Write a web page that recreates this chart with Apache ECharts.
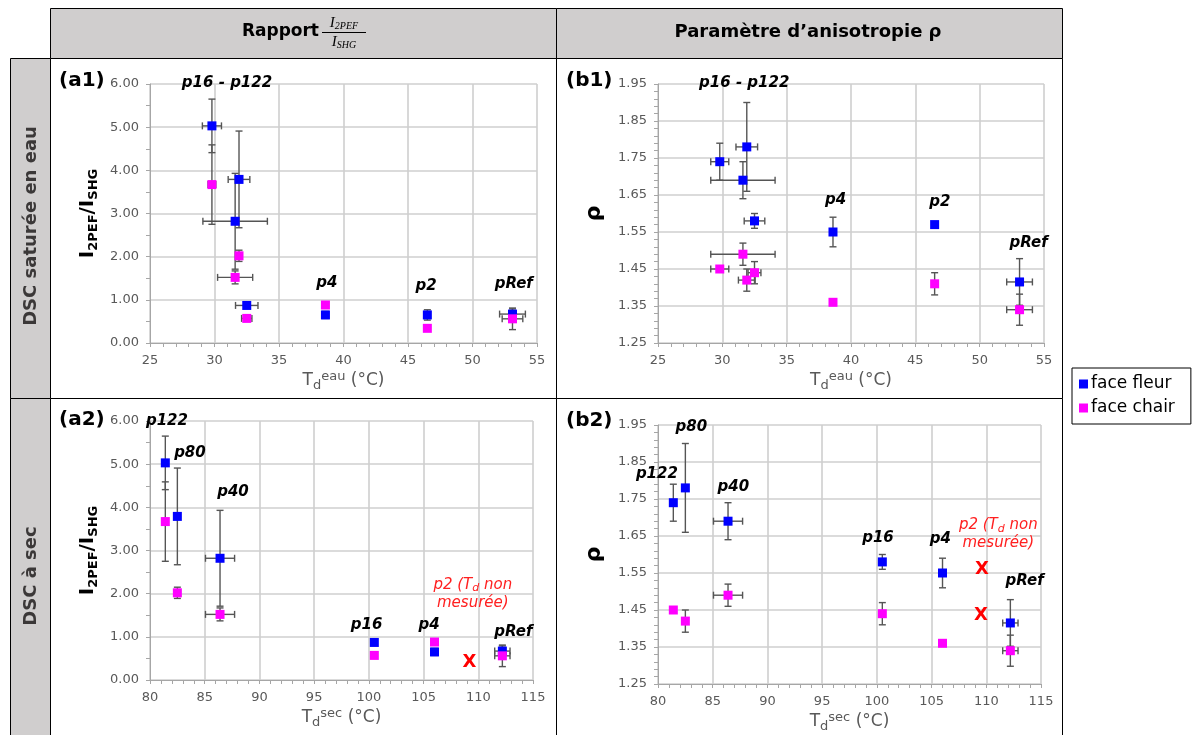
<!DOCTYPE html>
<html><head><meta charset="utf-8">
<script src="https://cdn.jsdelivr.net/npm/echarts@6/dist/echarts.min.js"></script>
<style>html,body{margin:0;padding:0;background:#fff}#c{width:1197px;height:735px}</style>
</head><body><div id="c"></div>
<script>
// ---------- DATA ----------
const samples = ['p122', 'p80', 'p40', 'p16', 'p4', 'p2', 'pRef'];
const tdEau = [29.8, 31.9, 31.6, 32.5, 38.6, 46.5, 53.1];
const tdSec = [81.4, 82.5, 86.4, 100.5, 106.0, null, 112.2];

const ratioFleur    = [5.03, 3.79, 2.82, 0.87, 0.65, 0.65, 0.67];
const ratioFleurErr = [0.62, 1.12, 1.11, 0.03, 0.08, 0.12, 0.12];
const ratioChair    = [3.67, 2.02, 1.52, 0.57, 0.88, 0.34, 0.56];
const ratioChairErr = [0.92, 0.13, 0.15, 0.03, 0.04, 0.03, 0.25];

const rhoFleur    = [1.74, 1.78, 1.69, 1.58, 1.55, 1.57, 1.415];
const rhoFleurErr = [0.05, 0.12, 0.05, 0.02, 0.04, 0.0, 0.063];
const rhoChair    = [1.45, 1.42, 1.49, 1.44, 1.36, 1.41, 1.34];
const rhoChairErr = [0.0, 0.03, 0.03, 0.03, 0.0, 0.03, 0.042];

const tdEauErrRatioFleur = [0.74, 0.84, 2.5, 0.87, 0.1, 0, 1.0];
const tdEauErrRatioChair = [0.3, 0.2, 1.36, 0.4, 0.1, 0, 0.8];
const tdEauErrRhoFleur   = [0.7, 0.84, 2.5, 0.8, 0.1, 0, 1.0];
const tdEauErrRhoChair   = [0.7, 0.65, 2.5, 0.5, 0.1, 0, 1.0];
const tdSecErrFleur      = [0, 0, 1.33, 0, 0, 0, 0.7];
const tdSecErrChair      = [0, 0, 1.33, 0, 0, 0, 0.7];

// p2 : T_d non mesurée (red crosses)
const p2CrossRatio = [[109.2, 0.41]];
const p2CrossRho = [[109.6, 1.56], [109.5, 1.435]];

// annotation labels [text, x, y]
const annA1 = [['p16 - p122', 30.97, 6.02], ['p4', 38.7, 1.38], ['p2', 46.4, 1.31], ['pRef', 53.2, 1.36]];
const annB1 = [['p16 - p122', 31.7, 1.953], ['p4', 38.8, 1.637], ['p2', 46.9, 1.632], ['pRef', 53.8, 1.521]];
const annA2 = [['p122', 81.55, 5.99], ['p80', 83.65, 5.25], ['p40', 87.58, 4.35], ['p16', 99.8, 1.27], ['p4', 105.5, 1.27], ['pRef', 113.2, 1.11]];
const annB2 = [['p122', 79.9, 1.817], ['p80', 83.04, 1.944], ['p40', 86.88, 1.782], ['p16', 100.1, 1.644], ['p4', 105.8, 1.641], ['pRef', 113.5, 1.528]];
const annP2A2 = [109.5, 2.0];
const annP2B2 = [111.1, 1.655];

// ---------- BUILD ----------
const FF = '"DejaVu Sans", sans-serif';
const BLUE = '#0000ff', MAG = '#ff00ff', GRAY = '#595959';

function pts(xs, ys, xe, ye) {
  const out = [];
  for (let i = 0; i < xs.length; i++) {
    if (xs[i] == null || ys[i] == null) continue;
    out.push([xs[i], ys[i], xe[i] || 0, ye[i] || 0]);
  }
  return out;
}

function errRender(params, api) {
  const x = api.value(0), y = api.value(1), ex = api.value(2), ey = api.value(3);
  const c = api.coord([x, y]);
  const style = { stroke: '#555555', lineWidth: 1.4 };
  const cap = 3.5;
  const ch = [];
  if (ey > 0) {
    const t = api.coord([x, y + ey]), b = api.coord([x, y - ey]);
    ch.push({ type: 'line', shape: { x1: c[0], y1: t[1], x2: c[0], y2: b[1] }, style });
    ch.push({ type: 'line', shape: { x1: c[0] - cap, y1: t[1], x2: c[0] + cap, y2: t[1] }, style });
    ch.push({ type: 'line', shape: { x1: c[0] - cap, y1: b[1], x2: c[0] + cap, y2: b[1] }, style });
  }
  if (ex > 0) {
    const l = api.coord([x - ex, y]), r = api.coord([x + ex, y]);
    ch.push({ type: 'line', shape: { x1: l[0], y1: c[1], x2: r[0], y2: c[1] }, style });
    ch.push({ type: 'line', shape: { x1: l[0], y1: c[1] - cap, x2: l[0], y2: c[1] + cap }, style });
    ch.push({ type: 'line', shape: { x1: r[0], y1: c[1] - cap, x2: r[0], y2: c[1] + cap }, style });
  }
  return { type: 'group', children: ch };
}

const grids = [
  { left: 150, top: 84, width: 387, height: 259 },
  { left: 658, top: 84, width: 386, height: 259 },
  { left: 150, top: 421, width: 383, height: 259 },
  { left: 658, top: 425, width: 383, height: 259 }
];

const axisRichX = {
  n: { fontSize: 17, color: GRAY, fontFamily: FF, lineHeight: 22 },
  sub: { fontSize: 13, color: GRAY, fontFamily: FF, lineHeight: 6, verticalAlign: 'bottom' },
  sup: { fontSize: 13, color: GRAY, fontFamily: FF, lineHeight: 10, verticalAlign: 'top' }
};
const axisRichY = {
  b: { fontSize: 20, color: '#000', fontWeight: 'bold', fontFamily: FF, lineHeight: 24 },
  s: { fontSize: 13, color: '#000', fontWeight: 'bold', fontFamily: FF, lineHeight: 6, verticalAlign: 'bottom' },
  r: { fontSize: 22, color: '#000', fontWeight: 'bold', fontFamily: FF, lineHeight: 24 }
};

function xAx(gi, min, max, word) {
  return {
    type: 'value', gridIndex: gi, min, max, interval: 5,
    axisLine: { show: true, onZero: false, lineStyle: { color: '#a6a6a6', width: 1 } },
    axisTick: { show: true, length: 4, lineStyle: { color: '#a6a6a6' } },
    minorTick: { show: true, splitNumber: 5, length: 4, lineStyle: { color: '#a6a6a6' } },
    splitLine: { show: true, lineStyle: { color: '#cfcfcf', width: 1.6 } },
    axisLabel: { color: GRAY, fontSize: 13, fontFamily: FF, margin: 11 },
    name: '{n|T}{sub|d}{sup|' + word + '}{n| (°C)}',
    nameLocation: 'middle', nameGap: 27,
    nameTextStyle: { rich: axisRichX }
  };
}
function yAx(gi, min, max, interval, minorSplit, isRho) {
  return {
    type: 'value', gridIndex: gi, min, max, interval,
    axisLine: { show: true, onZero: false, lineStyle: { color: '#a6a6a6', width: 1 } },
    axisTick: { show: true, length: 4, lineStyle: { color: '#a6a6a6' } },
    minorTick: { show: true, splitNumber: minorSplit, length: 4, lineStyle: { color: '#a6a6a6' } },
    splitLine: { show: true, lineStyle: { color: '#cfcfcf', width: 1.6 } },
    axisLabel: { color: GRAY, fontSize: 13, fontFamily: FF, margin: 11, formatter: v => v.toFixed(2) },
    name: isRho ? '{r|ρ}' : '{b|I}{s|2PEF}{b|/I}{s|SHG}',
    nameLocation: 'middle', nameRotate: 90, nameGap: isRho ? 52 : 50,
    nameTextStyle: { rich: axisRichY }
  };
}

const series = [];
function addPanel(gi, xs, fy, fyErr, fxErr, cy, cyErr, cxErr) {
  const fd = pts(xs, fy, fxErr, fyErr), cd = pts(xs, cy, cxErr, cyErr);
  [fd, cd].forEach(d => series.push({
    type: 'custom', name: 'err', xAxisIndex: gi, yAxisIndex: gi, renderItem: errRender,
    data: d, encode: { x: 0, y: 1 }, z: 3, silent: true, clip: false
  }));
  series.push({ type: 'scatter', name: 'face fleur', xAxisIndex: gi, yAxisIndex: gi, symbol: 'rect', symbolSize: 9,
    itemStyle: { color: BLUE, opacity: 1 }, data: fd.map(p => [p[0], p[1]]), z: 5, silent: true });
  series.push({ type: 'scatter', name: 'face chair', xAxisIndex: gi, yAxisIndex: gi, symbol: 'rect', symbolSize: 9,
    itemStyle: { color: MAG, opacity: 1 }, data: cd.map(p => [p[0], p[1]]), z: 5, silent: true });
}
addPanel(0, tdEau, ratioFleur, ratioFleurErr, tdEauErrRatioFleur, ratioChair, ratioChairErr, tdEauErrRatioChair);
addPanel(1, tdEau, rhoFleur, rhoFleurErr, tdEauErrRhoFleur, rhoChair, rhoChairErr, tdEauErrRhoChair);
addPanel(2, tdSec, ratioFleur, ratioFleurErr, tdSecErrFleur, ratioChair, ratioChairErr, tdSecErrChair);
addPanel(3, tdSec, rhoFleur, rhoFleurErr, tdSecErrFleur, rhoChair, rhoChairErr, tdSecErrChair);

function addAnn(gi, arr) {
  series.push({
    type: 'scatter', name: 'ann', xAxisIndex: gi, yAxisIndex: gi, symbolSize: 1, silent: true, z: 6, clip: false,
    itemStyle: { color: 'rgba(0,0,0,0)', opacity: 1 },
    label: { show: true, position: 'inside', formatter: '{b}', color: '#000', opacity: 1, fontSize: 15, fontWeight: 'bold', fontStyle: 'italic', fontFamily: FF },
    data: arr.map(a => ({ name: a[0], value: [a[1], a[2]] }))
  });
}
addAnn(0, annA1); addAnn(1, annB1); addAnn(2, annA2); addAnn(3, annB2);

const redRich = {
  r: { color: '#ff2020', fontSize: 15, fontStyle: 'italic', fontFamily: FF, lineHeight: 18 },
  rs: { color: '#ff2020', fontSize: 11, fontStyle: 'italic', fontFamily: FF, lineHeight: 6, verticalAlign: 'bottom' }
};
function addP2(gi, pos, crosses) {
  series.push({
    type: 'scatter', name: 'ann', xAxisIndex: gi, yAxisIndex: gi, symbolSize: 1, silent: true, z: 6, clip: false,
    itemStyle: { color: 'rgba(0,0,0,0)', opacity: 1 },
    label: { show: true, position: 'inside', align: 'center', opacity: 1,
      formatter: '{r|p2 (T}{rs|d}{r| non}\n{r|mesurée)}', rich: redRich },
    data: [pos]
  });
  series.push({
    type: 'scatter', name: 'ann', xAxisIndex: gi, yAxisIndex: gi, symbolSize: 1, silent: true, z: 6, clip: false,
    itemStyle: { color: 'rgba(0,0,0,0)', opacity: 1 },
    label: { show: true, position: 'inside', formatter: 'X', color: '#ff0000', opacity: 1, fontSize: 18, fontWeight: 'bold', fontFamily: FF },
    data: crosses
  });
}
addP2(2, annP2A2, p2CrossRatio);
addP2(3, annP2B2, p2CrossRho);

// ---------- TABLE / TEXT ----------
const CELL = '#d0cece';
const fracRich = {
  i: { fontFamily: '"Liberation Serif", serif', fontStyle: 'italic', fontSize: 15, fill: '#000', lineHeight: 16 },
  s: { fontFamily: '"Liberation Serif", serif', fontStyle: 'italic', fontSize: 10, fill: '#000', lineHeight: 5, verticalAlign: 'bottom' }
};
const graphic = [
  { type: 'rect', z: -5, shape: { x: 50.5, y: 8.5, width: 1012, height: 50 }, style: { fill: CELL, stroke: '#000', lineWidth: 1 } },
  { type: 'line', z: -4, shape: { x1: 556.5, y1: 8.5, x2: 556.5, y2: 58.5 }, style: { stroke: '#000', lineWidth: 1 } },
  { type: 'rect', z: -5, shape: { x: 10.5, y: 58.5, width: 40, height: 340 }, style: { fill: CELL, stroke: '#000', lineWidth: 1 } },
  { type: 'rect', z: -5, shape: { x: 10.5, y: 398.5, width: 40, height: 345 }, style: { fill: CELL, stroke: '#000', lineWidth: 1 } },
  { type: 'rect', z: -5, shape: { x: 50.5, y: 58.5, width: 506, height: 340 }, style: { fill: '#fff', stroke: '#000', lineWidth: 1 } },
  { type: 'rect', z: -5, shape: { x: 556.5, y: 58.5, width: 506, height: 340 }, style: { fill: '#fff', stroke: '#000', lineWidth: 1 } },
  { type: 'rect', z: -5, shape: { x: 50.5, y: 398.5, width: 506, height: 345 }, style: { fill: '#fff', stroke: '#000', lineWidth: 1 } },
  { type: 'rect', z: -5, shape: { x: 556.5, y: 398.5, width: 506, height: 345 }, style: { fill: '#fff', stroke: '#000', lineWidth: 1 } },
  // header texts
  { type: 'text', z: 10, x: 319, y: 32, style: { text: 'Rapport', font: 'bold 17px ' + FF, fill: '#000', align: 'right', verticalAlign: 'middle' } },
  { type: 'text', z: 10, x: 344, y: 23, style: { text: '{i|I}{s|2PEF}', align: 'center', verticalAlign: 'middle', rich: fracRich } },
  { type: 'line', z: 10, shape: { x1: 322, y1: 32.5, x2: 366, y2: 32.5 }, style: { stroke: '#000', lineWidth: 1 } },
  { type: 'text', z: 10, x: 344, y: 42, style: { text: '{i|I}{s|SHG}', align: 'center', verticalAlign: 'middle', rich: fracRich } },
  { type: 'text', z: 10, x: 808, y: 32, style: { text: 'Paramètre d’anisotropie ρ', font: 'bold 18px ' + FF, fill: '#000', align: 'center', verticalAlign: 'middle' } },
  // row titles
  { type: 'text', z: 10, x: 31, y: 226, rotation: Math.PI / 2, style: { text: 'DSC saturée en eau', font: 'bold 18px ' + FF, fill: '#3b3838', align: 'center', verticalAlign: 'middle' } },
  { type: 'text', z: 10, x: 31, y: 576, rotation: Math.PI / 2, style: { text: 'DSC à sec', font: 'bold 18px ' + FF, fill: '#3b3838', align: 'center', verticalAlign: 'middle' } },
  // panel tags
  { type: 'text', z: 10, x: 59, y: 81, style: { text: '(a1)', font: 'bold 20px ' + FF, fill: '#000', verticalAlign: 'middle' } },
  { type: 'text', z: 10, x: 566, y: 81, style: { text: '(b1)', font: 'bold 20px ' + FF, fill: '#000', verticalAlign: 'middle' } },
  { type: 'text', z: 10, x: 59, y: 420, style: { text: '(a2)', font: 'bold 20px ' + FF, fill: '#000', verticalAlign: 'middle' } },
  { type: 'text', z: 10, x: 566, y: 421, style: { text: '(b2)', font: 'bold 20px ' + FF, fill: '#000', verticalAlign: 'middle' } }
];

const option = {
  animation: false,
  backgroundColor: '#fff',
  grid: grids,
  xAxis: [xAx(0, 25, 55, 'eau'), xAx(1, 25, 55, 'eau'), xAx(2, 80, 115, 'sec'), xAx(3, 80, 115, 'sec')],
  yAxis: [yAx(0, 0, 6, 1, 2, false), yAx(1, 1.25, 1.95, 0.1, 5, true), yAx(2, 0, 6, 1, 2, false), yAx(3, 1.25, 1.95, 0.1, 5, true)],
  legend: {
    data: ['face fleur', 'face chair'], orient: 'vertical', left: 1072, top: 368,
    padding: [6, 16, 6, 7], itemGap: 4, itemWidth: 9, itemHeight: 9, icon: 'rect',
    borderColor: '#000', borderWidth: 1, selectedMode: false,
    textStyle: { fontSize: 17, color: '#000', fontFamily: FF, padding: [0, 0, 0, -2], lineHeight: 20 }
  },
  graphic: graphic,
  series: series
};
const chart = echarts.init(document.getElementById('c'), null, { renderer: 'canvas' });
chart.setOption(option);
</script>
</body></html>
